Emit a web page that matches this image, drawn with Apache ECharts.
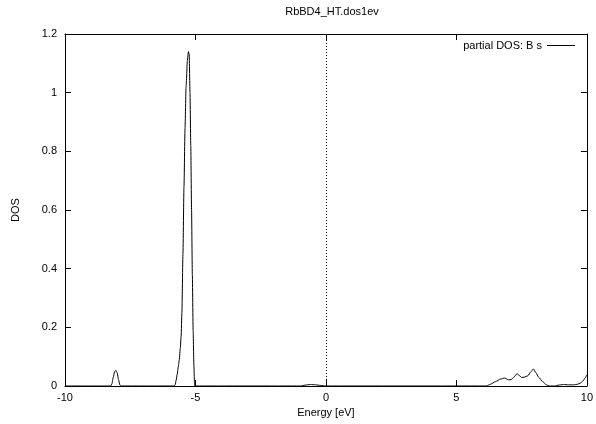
<!DOCTYPE html>
<html>
<head>
<meta charset="utf-8">
<script src="https://cdn.jsdelivr.net/npm/echarts@6/dist/echarts.min.js"></script>
<style>
  html, body { margin: 0; padding: 0; background: #fff; }
  #chart { width: 596px; height: 424px; }
</style>
</head>
<body>
<div id="chart"></div>
<script>
// Partial density of states for B s orbitals, RbBD4 (HT phase)
const energy = [
  -10, -8.25, -8.2, -8.15, -8.1, -8.05, -8.0, -7.95, -7.9, -7.85,
  -5.82, -5.78, -5.74, -5.70, -5.66, -5.62, -5.58, -5.55, -5.52, -5.48,
  -5.44, -5.40, -5.36, -5.31, -5.27, -5.24, -5.21, -5.18, -5.15, -5.12,
  -5.09, -5.06, -5.04, -5.02,
  -0.95, -0.8, -0.6, -0.4, -0.2, 0,
  6.15, 6.3, 6.5, 6.7, 6.85, 7.0, 7.1, 7.2, 7.32, 7.42, 7.5, 7.6, 7.74,
  7.85, 7.95, 8.05, 8.15, 8.3, 8.45, 8.55,
  8.8, 8.9, 9.1, 9.3, 9.5, 9.65, 9.75, 9.85, 9.93, 10
];
const dos = [
  0, 0, 0.008, 0.03, 0.048, 0.053, 0.045, 0.022, 0.004, 0,
  0, 0.004, 0.02, 0.04, 0.065, 0.09, 0.13, 0.17, 0.25, 0.45,
  0.68, 0.88, 1.02, 1.11, 1.14, 1.13, 1.0, 0.82, 0.6, 0.38,
  0.19, 0.07, 0.015, 0,
  0, 0.003, 0.005, 0.004, 0.002, 0,
  0, 0.006, 0.015, 0.024, 0.027, 0.021, 0.022, 0.03, 0.042, 0.035, 0.029, 0.03, 0.035,
  0.048, 0.058, 0.045, 0.03, 0.015, 0.004, 0,
  0, 0.003, 0.005, 0.004, 0.004, 0.006, 0.01, 0.017, 0.027, 0.038
];
const xTicks = [-10, -5, 0, 5, 10];
const yTicks = [0, 0.2, 0.4, 0.6, 0.8, 1, 1.2];
const seriesName = 'partial DOS: B s';
const chartTitle = 'RbBD4_HT.dos1ev';

const font = 'Liberation Sans, Arial, sans-serif';
const ink = '#000';

const chart = echarts.init(document.getElementById('chart'), null, { renderer: 'canvas' });

const points = energy.map((e, i) => [e, dos[i]]);

const axisCommon = {
  axisLine: { show: true, onZero: false, lineStyle: { color: ink, width: 1 } },
  axisTick: { show: true, inside: true, length: 6, lineStyle: { color: ink, width: 1 } },
  splitLine: { show: false }
};

chart.setOption({
  animation: false,
  backgroundColor: '#fff',
  title: {
    text: chartTitle,
    left: 327,
    top: 1,
    textAlign: 'center',
    textStyle: { fontFamily: font, fontSize: 11, fontWeight: 'normal', color: ink }
  },
  legend: {
    right: 16,
    top: 35,
    align: 'right',
    itemWidth: 28,
    itemHeight: 1,
    icon: 'rect',
    selectedMode: false,
    textStyle: { fontFamily: font, fontSize: 11, color: ink },
    data: [{ name: seriesName, itemStyle: { color: ink } }]
  },
  grid: { left: 65, right: 7, top: 34, bottom: 38, containLabel: false },
  xAxis: [
    Object.assign({}, axisCommon, {
      type: 'value', min: xTicks[0], max: xTicks[xTicks.length - 1], interval: 5,
      position: 'bottom',
      name: 'Energy [eV]', nameLocation: 'middle', nameGap: 19,
      nameTextStyle: { fontFamily: font, fontSize: 11, color: ink },
      axisLabel: { show: true, margin: 6, fontFamily: font, fontSize: 11, color: ink }
    }),
    Object.assign({}, axisCommon, {
      type: 'value', min: xTicks[0], max: xTicks[xTicks.length - 1], interval: 5,
      position: 'top', axisLabel: { show: false }
    })
  ],
  yAxis: [
    Object.assign({}, axisCommon, {
      type: 'value', min: yTicks[0], max: yTicks[yTicks.length - 1], interval: 0.2,
      position: 'left',
      name: 'DOS', nameLocation: 'middle', nameGap: 44, nameRotate: 90,
      nameTextStyle: { fontFamily: font, fontSize: 11, color: ink },
      axisLabel: {
        show: true, margin: 8, fontFamily: font, fontSize: 11, color: ink,
        formatter: v => String(Math.round(v * 10) / 10)
      }
    }),
    Object.assign({}, axisCommon, {
      type: 'value', min: yTicks[0], max: yTicks[yTicks.length - 1], interval: 0.2,
      position: 'right', axisLabel: { show: false }
    })
  ],
  series: [
    {
      name: seriesName,
      type: 'line',
      data: points,
      showSymbol: false,
      smooth: 0.2,
      smoothMonotone: 'x',
      lineStyle: { color: ink, width: 1 },
      itemStyle: { color: ink },
      markLine: {
        silent: true,
        symbol: 'none',
        label: { show: false },
        lineStyle: { color: ink, width: 1, type: [1, 2] },
        data: [{ xAxis: 0 }]
      }
    }
  ]
});
</script>
</body>
</html>
